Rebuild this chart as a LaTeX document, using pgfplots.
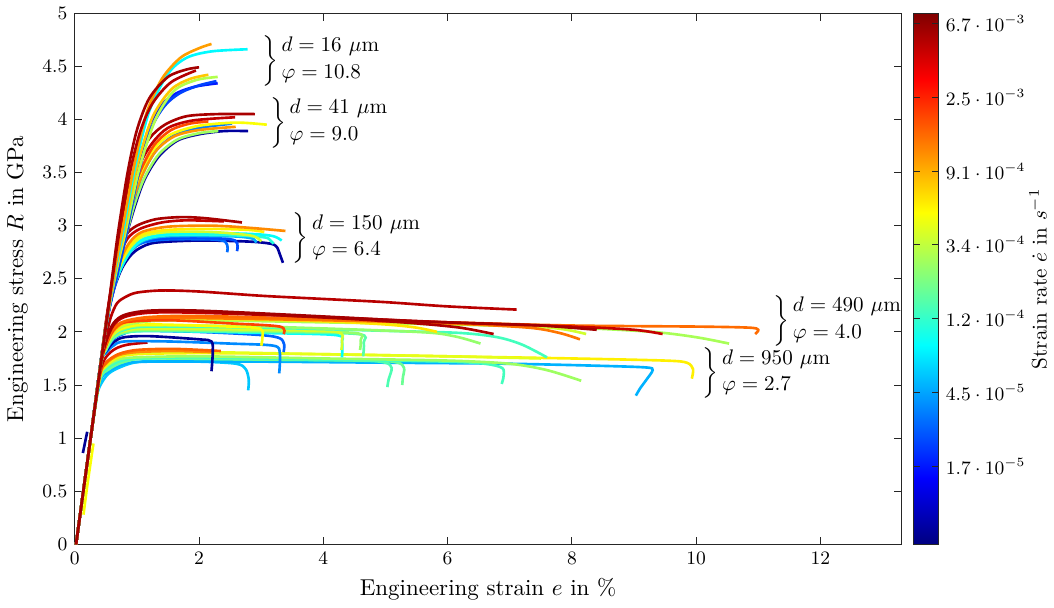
\documentclass[border=0pt]{standalone}
\usepackage{pgfplots}
\pgfplotsset{compat=1.18}
\newcommand{\crv}[2]{\addplot[color of colormap=#1, line width=1.25pt, smooth, tension=0.5] coordinates {#2};}
\newcommand{\grp}[2]{$\left.\rule[-7.5pt]{0pt}{20pt}\right\}\renewcommand{\arraystretch}{0.8}\begin{array}{@{}l@{}}#1\\[3pt] #2\end{array}$}
\begin{document}
\begin{tikzpicture}
\begin{axis}[
  scale only axis, width=392pt, height=252pt,
  xmin=0, xmax=13.3, ymin=0, ymax=5,
  xtick={0,2,4,6,8,10,12}, ytick={0,0.5,1,1.5,2,2.5,3,3.5,4,4.5,5},
  tick align=inside, major tick length=3.5pt,
  tick label style={font=\small},
  label style={font=\fontsize{10.9}{13}\selectfont},
  xlabel={Engineering strain $e$ in \%},
  ylabel={Engineering stress $R$ in GPa},
  axis line style={black!85}, every tick/.style={black!85},
  colormap/jet,
  point meta min=-12.06, point meta max=-4.86,
  colorbar,
  colorbar shift/.style={xshift=5.5pt},
  colorbar style={scale only axis, width=12pt,
    ytick={-11,-10,-9,-8,-7,-6,-5},
    yticklabels={$1.7\cdot 10^{-5}$,$4.5\cdot 10^{-5}$,$1.2\cdot 10^{-4}$,$3.4\cdot 10^{-4}$,$9.1\cdot 10^{-4}$,$2.5\cdot 10^{-3}$,$6.7\cdot 10^{-3}$},
    yticklabel style={font=\small},
    ylabel={Strain rate $\dot{e}$ in $s^{-1}$},
    ylabel style={font=\normalsize},
    ylabel shift=-5pt,
    tick align=inside, major tick length=3pt,
    axis line style={black!85}, every tick/.style={black!85}},
]
% ---------- d = 950 um ----------
\crv{320}{(0.02,0)(0.25,0.98)(0.35,1.4)(0.5,1.58)(0.7,1.66)(1.07,1.72)(2.0,1.72)(2.6,1.7)(2.75,1.65)(2.8,1.55)(2.79,1.45)}
\crv{300}{(0.02,0)(0.25,0.98)(0.4,1.52)(0.55,1.63)(0.8,1.7)(1.2,1.72)(3,1.72)(5,1.71)(7,1.70)(8.5,1.68)(9.2,1.665)(9.3,1.64)(9.2,1.55)(9.1,1.47)(9.03,1.40)}
\crv{450}{(0.02,0)(0.25,0.98)(0.4,1.54)(0.55,1.65)(0.8,1.72)(1.2,1.75)(3,1.74)(4.6,1.73)(5.0,1.71)(5.1,1.66)(5.05,1.55)(5.03,1.48)}
\crv{480}{(0.02,0)(0.25,0.98)(0.4,1.54)(0.55,1.65)(0.8,1.72)(1.2,1.75)(3,1.74)(4.8,1.73)(5.2,1.71)(5.3,1.66)(5.28,1.57)(5.27,1.50)}
\crv{440}{(0.02,0)(0.25,0.98)(0.4,1.55)(0.5,1.65)(0.7,1.72)(1.0,1.75)(2,1.76)(4,1.74)(6,1.72)(6.6,1.70)(6.88,1.66)(6.9,1.58)(6.87,1.51)}
\crv{530}{(0.02,0)(0.25,0.98)(0.4,1.56)(0.5,1.67)(0.7,1.74)(1.0,1.76)(2,1.77)(4,1.75)(6,1.73)(7,1.70)(7.6,1.64)(8.15,1.54)}
\crv{640}{(0.02,0)(0.25,0.98)(0.4,1.57)(0.5,1.68)(0.7,1.76)(1.0,1.79)(2,1.80)(4,1.79)(6,1.77)(8,1.75)(9.5,1.73)(9.85,1.71)(9.95,1.65)(9.93,1.56)}
\crv{600}{(0.02,0)(0.25,0.98)(0.4,1.57)(0.5,1.69)(0.7,1.77)(1.0,1.80)(2,1.81)(4,1.79)(6,1.77)(7.5,1.75)}
\crv{740}{(0.02,0)(0.25,0.98)(0.4,1.58)(0.5,1.70)(0.7,1.78)(1.0,1.81)(1.6,1.82)(2.2,1.81)}
\crv{780}{(0.02,0)(0.25,0.98)(0.4,1.58)(0.5,1.71)(0.7,1.79)(1.0,1.83)(1.6,1.84)(2.35,1.82)}
\crv{935}{(0.02,0)(0.25,0.98)(0.4,1.6)(0.5,1.76)(0.65,1.84)(0.85,1.88)(1.17,1.90)}
% ---------- d = 490 um ----------
\crv{260}{(0.02,0)(0.25,0.98)(0.42,1.7)(0.5,1.8)(0.62,1.87)(0.8,1.91)(1.5,1.91)(2.5,1.89)(3.2,1.87)(3.3,1.80)(3.29,1.61)}
\crv{20}{(0.02,0)(0.25,0.98)(0.42,1.7)(0.52,1.83)(0.64,1.91)(0.8,1.95)(1.2,1.96)(2.0,1.93)(2.2,1.91)(2.22,1.80)(2.2,1.63)}
\crv{220}{(0.02,0)(0.25,0.98)(0.42,1.7)(0.5,1.82)(0.62,1.93)(0.78,1.98)(1.0,2.01)(2,2.0)(3.0,1.97)(3.3,1.94)(3.37,1.88)(3.36,1.81)}
\crv{380}{(0.02,0)(0.25,0.98)(0.42,1.7)(0.5,1.83)(0.62,1.94)(0.8,1.99)(1.2,2.01)(3,1.99)(4.2,1.97)(4.3,1.90)(4.3,1.76)}
\crv{460}{(0.02,0)(0.25,0.98)(0.42,1.7)(0.5,1.83)(0.62,1.94)(0.8,1.99)(1.2,2.01)(3,2.0)(4.55,1.98)(4.65,1.90)(4.64,1.77)}
\crv{520}{(0.02,0)(0.25,0.98)(0.42,1.7)(0.5,1.84)(0.62,1.95)(0.8,2.0)(1.2,2.02)(3,2.01)(4.5,1.99)(4.6,1.92)(4.59,1.83)}
\crv{580}{(0.02,0)(0.25,0.98)(0.42,1.7)(0.5,1.84)(0.62,1.96)(0.8,2.01)(1.2,2.03)(3,2.02)(4.2,2.0)(4.3,1.92)(4.29,1.83)}
\crv{440}{(0.02,0)(0.25,0.98)(0.42,1.7)(0.5,1.84)(0.62,1.96)(0.8,2.02)(1.2,2.05)(3,2.04)(5,2.01)(6.2,1.99)(6.8,1.95)(7.2,1.88)(7.6,1.76)}
\crv{520}{(0.02,0)(0.25,0.98)(0.42,1.7)(0.5,1.85)(0.62,1.97)(0.8,2.03)(1.2,2.06)(3,2.05)(5.5,2.0)(6.1,1.96)(6.53,1.89)}
\crv{620}{(0.02,0)(0.25,0.98)(0.42,1.7)(0.5,1.85)(0.62,1.98)(0.8,2.04)(1.2,2.07)(2.5,2.05)(2.98,2.03)(3.02,1.95)(3.0,1.87)}
\crv{540}{(0.02,0)(0.25,0.98)(0.42,1.7)(0.5,1.86)(0.62,1.99)(0.8,2.06)(1.2,2.1)(2,2.11)(4,2.09)(6,2.07)(8,2.04)(9.3,2.0)(10.0,1.95)(10.53,1.89)}
\crv{580}{(0.02,0)(0.25,0.98)(0.42,1.7)(0.5,1.86)(0.62,1.99)(0.8,2.07)(1.2,2.11)(2,2.12)(4,2.1)(7,2.06)(7.8,2.03)(8.23,1.98)}
\crv{650}{(0.02,0)(0.25,0.98)(0.42,1.7)(0.5,1.87)(0.62,2.0)(0.8,2.08)(1.2,2.12)(2,2.13)(4,2.1)(5,2.07)(5.5,2.04)(5.83,2.0)}
\crv{760}{(0.02,0)(0.25,0.98)(0.42,1.7)(0.5,1.87)(0.62,2.01)(0.8,2.09)(1.2,2.13)(2,2.13)(4,2.11)(6,2.08)(7.3,2.04)(7.8,1.99)(8.13,1.93)}
\crv{810}{(0.02,0)(0.25,0.98)(0.42,1.7)(0.5,1.87)(0.62,2.02)(0.8,2.09)(1.5,2.11)(2.5,2.08)(3.3,2.05)(3.36,1.98)}
\crv{770}{(0.02,0)(0.25,0.98)(0.42,1.7)(0.5,1.88)(0.62,2.03)(0.8,2.1)(1.2,2.14)(2,2.15)(4,2.12)(6,2.09)(8,2.06)(10,2.05)(10.85,2.04)(11.0,2.02)(10.95,1.98)}
\crv{930}{(0.02,0)(0.25,0.98)(0.42,1.7)(0.5,1.9)(0.62,2.06)(0.8,2.14)(1.2,2.18)(2,2.18)(4,2.14)(6,2.09)(8,2.05)(9,2.02)(9.46,1.98)}
\crv{955}{(0.02,0)(0.25,0.98)(0.42,1.7)(0.5,1.91)(0.62,2.07)(0.8,2.15)(1.2,2.19)(2,2.19)(3.5,2.15)(4.5,2.12)(5.5,2.08)(6.2,2.04)(6.74,1.98)}
\crv{965}{(0.02,0)(0.25,0.98)(0.42,1.7)(0.5,1.92)(0.62,2.08)(0.8,2.16)(1.2,2.2)(2,2.2)(3.5,2.16)(4.5,2.13)(5.5,2.1)(6.5,2.08)(7.5,2.06)(8.4,2.02)}
\crv{945}{(0.02,0)(0.25,0.98)(0.42,1.72)(0.5,1.95)(0.58,2.14)(0.68,2.27)(0.82,2.33)(1.0,2.37)(1.4,2.39)(2.0,2.38)(3.0,2.34)(4.0,2.31)(5.0,2.28)(6.0,2.24)(7.11,2.21)}
% ---------- d = 150 um ----------
\crv{30}{(0.02,0)(0.25,0.98)(0.45,1.85)(0.55,2.2)(0.64,2.42)(0.76,2.6)(0.9,2.72)(1.05,2.79)(1.3,2.84)(2.0,2.86)(2.8,2.85)(3.15,2.83)(3.25,2.8)(3.3,2.73)(3.35,2.65)}
\crv{230}{(0.02,0)(0.25,0.98)(0.45,1.85)(0.54,2.18)(0.63,2.42)(0.75,2.62)(0.9,2.76)(1.1,2.84)(1.5,2.87)(2.2,2.87)(2.42,2.85)(2.46,2.79)(2.45,2.75)}
\crv{200}{(0.02,0)(0.25,0.98)(0.45,1.85)(0.54,2.18)(0.63,2.42)(0.75,2.62)(0.9,2.77)(1.1,2.85)(1.5,2.88)(2.3,2.88)(2.58,2.86)(2.62,2.80)(2.61,2.76)}
\crv{300}{(0.02,0)(0.25,0.98)(0.45,1.85)(0.54,2.18)(0.63,2.42)(0.76,2.62)(0.92,2.77)(1.12,2.86)(1.5,2.9)(2.5,2.9)(2.85,2.88)(2.92,2.84)}
\crv{410}{(0.02,0)(0.25,0.98)(0.45,1.85)(0.54,2.18)(0.63,2.42)(0.76,2.62)(0.92,2.78)(1.12,2.87)(1.5,2.91)(2.5,2.91)(3.05,2.89)(3.15,2.86)(3.2,2.83)}
\crv{380}{(0.02,0)(0.25,0.98)(0.45,1.85)(0.54,2.18)(0.63,2.42)(0.76,2.63)(0.92,2.79)(1.12,2.88)(1.5,2.92)(2.2,2.93)(2.9,2.92)(3.2,2.9)(3.33,2.86)}
\crv{580}{(0.02,0)(0.25,0.98)(0.45,1.85)(0.53,2.16)(0.62,2.42)(0.75,2.65)(0.9,2.8)(1.1,2.9)(1.5,2.94)(2.2,2.94)(2.8,2.91)(2.95,2.88)(3.0,2.85)}
\crv{640}{(0.02,0)(0.25,0.98)(0.45,1.85)(0.53,2.16)(0.62,2.43)(0.75,2.66)(0.9,2.82)(1.1,2.92)(1.5,2.96)(2.2,2.97)(2.8,2.96)(3.05,2.94)}
\crv{740}{(0.02,0)(0.25,0.98)(0.45,1.85)(0.53,2.17)(0.62,2.44)(0.74,2.68)(0.88,2.84)(1.08,2.94)(1.5,2.99)(2.2,3.0)(2.8,2.98)(3.39,2.95)}
\crv{935}{(0.02,0)(0.25,0.98)(0.45,1.86)(0.52,2.16)(0.61,2.46)(0.72,2.71)(0.85,2.88)(1.05,2.97)(1.4,3.03)(1.8,3.05)(2.4,3.04)}
\crv{960}{(0.02,0)(0.25,0.98)(0.45,1.86)(0.52,2.17)(0.6,2.46)(0.7,2.73)(0.82,2.91)(1.0,3.0)(1.3,3.06)(1.7,3.08)(2.1,3.07)(2.69,3.03)}
% ---------- d = 41 um ----------
\crv{30}{(0.02,0)(0.25,0.98)(0.5,2.05)(0.66,2.5)(0.79,2.82)(0.95,3.15)(1.12,3.43)(1.35,3.65)(1.65,3.8)(2.0,3.86)(2.4,3.89)(2.79,3.89)}
\crv{530}{(0.02,0)(0.25,0.98)(0.5,2.05)(0.66,2.5)(0.79,2.82)(0.95,3.18)(1.12,3.45)(1.35,3.67)(1.65,3.81)(2.0,3.87)(2.31,3.89)}
\crv{250}{(0.02,0)(0.25,0.98)(0.5,2.05)(0.65,2.5)(0.77,2.83)(0.92,3.18)(1.08,3.47)(1.3,3.7)(1.6,3.85)(2.0,3.92)(2.53,3.96)}
\crv{730}{(0.02,0)(0.25,0.98)(0.5,2.05)(0.65,2.5)(0.77,2.85)(0.92,3.2)(1.08,3.47)(1.3,3.7)(1.6,3.84)(2.0,3.9)(2.59,3.93)}
\crv{620}{(0.02,0)(0.25,0.98)(0.5,2.05)(0.64,2.5)(0.76,2.85)(0.9,3.22)(1.06,3.5)(1.27,3.72)(1.55,3.86)(2.0,3.94)(2.6,3.97)(3.09,3.95)}
\crv{800}{(0.02,0)(0.25,0.98)(0.5,2.05)(0.64,2.5)(0.76,2.86)(0.9,3.24)(1.06,3.52)(1.28,3.76)(1.55,3.9)(1.85,3.96)(2.15,3.98)}
\crv{935}{(0.02,0)(0.25,0.98)(0.5,2.05)(0.63,2.5)(0.74,2.88)(0.88,3.28)(1.04,3.57)(1.25,3.78)(1.5,3.92)(1.9,3.99)(2.58,4.02)}
\crv{960}{(0.02,0)(0.25,0.98)(0.5,2.05)(0.62,2.5)(0.72,2.88)(0.85,3.3)(1.0,3.6)(1.2,3.82)(1.45,3.95)(1.8,4.03)(2.3,4.05)(2.9,4.05)}
% ---------- d = 16 um ----------
\crv{150}{(0.02,0)(0.25,0.98)(0.5,2.05)(0.68,2.55)(0.82,2.95)(0.98,3.45)(1.19,3.92)(1.4,4.14)(1.65,4.25)(1.95,4.31)(2.3,4.34)}
\crv{190}{(0.02,0)(0.25,0.98)(0.5,2.05)(0.69,2.55)(0.84,2.95)(1.01,3.45)(1.22,3.9)(1.45,4.13)(1.7,4.25)(2.0,4.32)(2.28,4.36)}
\crv{550}{(0.02,0)(0.25,0.98)(0.5,2.05)(0.68,2.6)(0.82,2.95)(1.03,3.52)(1.3,4.0)(1.6,4.27)(1.95,4.37)(2.3,4.40)}
\crv{680}{(0.02,0)(0.25,0.98)(0.5,2.05)(0.67,2.6)(0.8,2.95)(1.0,3.55)(1.25,4.02)(1.55,4.28)(1.85,4.38)(2.15,4.42)}
\crv{370}{(0.02,0)(0.25,0.98)(0.5,2.05)(0.66,2.6)(0.78,2.95)(0.97,3.55)(1.2,4.08)(1.5,4.43)(1.8,4.58)(2.2,4.64)(2.78,4.66)}
\crv{720}{(0.02,0)(0.25,0.98)(0.5,2.05)(0.65,2.6)(0.76,2.95)(0.95,3.55)(1.15,4.05)(1.4,4.38)(1.7,4.58)(2.0,4.67)(2.2,4.71)}
\crv{950}{(0.02,0)(0.25,0.98)(0.5,2.05)(0.63,2.6)(0.72,2.95)(0.88,3.48)(1.05,3.88)(1.25,4.15)(1.55,4.35)(1.95,4.46)}
\crv{965}{(0.02,0)(0.25,0.98)(0.5,2.05)(0.62,2.6)(0.7,2.95)(0.85,3.5)(1.0,3.9)(1.2,4.2)(1.5,4.4)(1.8,4.47)(2.0,4.49)}
% small offset segments near origin
\crv{20}{(0.13,0.86)(0.2,1.06)}
\crv{620}{(0.14,0.28)(0.2,0.55)(0.3,0.95)}
% ---------- annotations ----------
\node[anchor=west, inner sep=0pt] at (axis cs:2.97,4.55) {\grp{d = 16~\mu\mathrm{m}}{\varphi = 10.8}};
\node[anchor=west, inner sep=0pt] at (axis cs:3.10,3.97) {\grp{d = 41~\mu\mathrm{m}}{\varphi = 9.0}};
\node[anchor=west, inner sep=0pt] at (axis cs:3.46,2.88) {\grp{d = 150~\mu\mathrm{m}}{\varphi = 6.4}};
\node[anchor=west, inner sep=0pt] at (axis cs:11.20,2.105) {\grp{d = 490~\mu\mathrm{m}}{\varphi = 4.0}};
\node[anchor=west, inner sep=0pt] at (axis cs:10.06,1.61) {\grp{d = 950~\mu\mathrm{m}}{\varphi = 2.7}};
\end{axis}
\end{tikzpicture}
\end{document}
